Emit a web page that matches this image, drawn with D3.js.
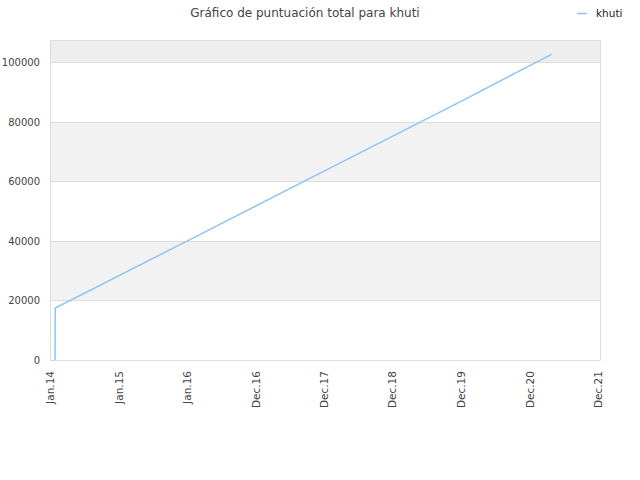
<!DOCTYPE html>
<html>
<head>
  <meta charset="utf-8">
  <script src="https://cdn.jsdelivr.net/npm/d3@7"></script>
  <style>
    body { margin: 0; background: #fff; }
    text { font-family: "DejaVu Sans", sans-serif; }
  </style>
</head>
<body>
<svg width="640" height="480"></svg>
<script>
  // data
  var dates = ["2014-01-17", "2014-01-18", "2016-01-01", "2018-01-01", "2020-01-01", "2021-04-17"];
  var scores = [0, 17450, 40250, 63700, 87150, 102600];
  var tickDates = ["2014-01-01", "2015-01-01", "2016-01-01", "2017-01-01", "2018-01-01", "2019-01-01", "2020-01-01", "2021-01-01", "2022-01-01"];
  var tickLabels = ["Jan.14", "Jan.15", "Jan.16", "Dec.16", "Dec.17", "Dec.18", "Dec.19", "Dec.20", "Dec.21"];
  var yTicks = [0, 20000, 40000, 60000, 80000, 100000];

  var parse = d3.utcParse("%Y-%m-%d");
  var points = dates.map(function(d, i) { return { date: parse(d), value: scores[i] }; });

  var plotLeft = 50, plotRight = 600, plotTop = 40, plotBottom = 360;
  var svg = d3.select("svg");

  var x = d3.scaleUtc()
      .domain([parse("2013-12-21"), parse("2022-01-01")])
      .range([plotLeft, plotRight]);

  var y = d3.scaleLinear()
      .domain([0, 107400])
      .range([plotBottom, plotTop]);

  // alternating bands
  var bands = yTicks.map(function(t, i) { return { from: t, to: i < yTicks.length - 1 ? yTicks[i + 1] : y.domain()[1], i: i }; });
  svg.selectAll("rect.band").data(bands).enter()
      .append("rect")
      .attr("x", plotLeft)
      .attr("width", plotRight - plotLeft)
      .attr("y", function(d) { return y(d.to); })
      .attr("height", function(d) { return y(d.from) - y(d.to); })
      .attr("fill", function(d) { return d.i === 5 ? "#eeeeee" : (d.i % 2 ? "#f2f2f2" : "#ffffff"); });

  // grid lines
  svg.selectAll("line.grid").data(yTicks).enter()
      .append("line")
      .attr("x1", plotLeft).attr("x2", plotRight)
      .attr("y1", function(d) { return Math.round(y(d)) + 0.5; })
      .attr("y2", function(d) { return Math.round(y(d)) + 0.5; })
      .attr("stroke", "#dddddd");

  svg.append("path")
      .attr("fill", "none")
      .attr("stroke", "#dddddd")
      .attr("d", ["M", plotLeft + 0.5, plotBottom, "L", plotLeft + 0.5, plotTop + 0.5, "L", plotRight + 0.5, plotTop + 0.5, "L", plotRight + 0.5, plotBottom + 0.5].join(" "));

  // y axis labels
  svg.selectAll("text.ytick").data(yTicks).enter()
      .append("text")
      .attr("x", 40)
      .attr("y", function(d) { return y(d) + 4; })
      .attr("text-anchor", "end")
      .attr("font-size", 10)
      .attr("fill", "#444")
      .text(function(d) { return d; });

  // x axis labels, rotated
  svg.selectAll("text.xtick").data(tickDates).enter()
      .append("text")
      .attr("transform", function(d) { return "translate(" + (x(parse(d)) + 2) + "," + 371 + ") rotate(-90)"; })
      .attr("text-anchor", "end")
      .attr("font-size", 10.5)
      .attr("fill", "#444")
      .text(function(d, i) { return tickLabels[i]; });

  var line = d3.line()
      .x(function(d) { return x(d.date); })
      .y(function(d) { return y(d.value); });

  svg.append("path")
      .datum(points)
      .attr("fill", "none")
      .attr("stroke", "#90c4f5")
      .attr("stroke-width", 1.5)
      .attr("d", line);

  // title
  svg.append("text")
      .attr("x", 305)
      .attr("y", 17)
      .attr("text-anchor", "middle")
      .attr("font-size", 12)
      .attr("fill", "#444")
      .text("Gráfico de puntuación total para khuti");

  // legend
  svg.append("line")
      .attr("x1", 577).attr("x2", 587)
      .attr("y1", 13.5).attr("y2", 13.5)
      .attr("stroke", "#90c4f5")
      .attr("stroke-width", 1.5);

  svg.append("text")
      .attr("x", 596)
      .attr("y", 17)
      .attr("font-size", 10.5)
      .attr("fill", "#222")
      .text("khuti");
</script>
</body>
</html>
